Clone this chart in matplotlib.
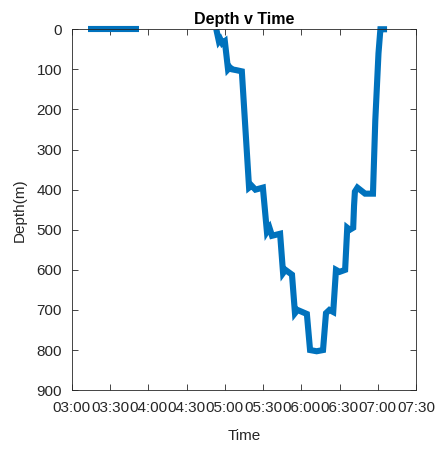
import numpy as np
import pandas as pd
import matplotlib
matplotlib.use('Agg')
import matplotlib.pyplot as plt
import matplotlib.dates as mdates

plt.rcParams['font.family'] = ['Liberation Sans', 'DejaVu Sans']

# surface segment
t_surface = ['03:12:30', '03:53:00']
d_surface = [0, 0]

# dive profile
t_dive = ['04:53:50', '04:55:20', '04:56:30', '04:58:00', '05:00:00', '05:02:30',
          '05:04:00', '05:05:40', '05:09:00', '05:13:20', '05:19:00', '05:21:00',
          '05:24:00', '05:29:50', '05:33:00', '05:35:00', '05:37:00', '05:43:20',
          '05:45:40', '05:47:30', '05:52:40', '05:55:00', '05:57:00', '06:04:20',
          '06:06:50', '06:12:00', '06:17:00', '06:19:20', '06:22:00', '06:25:00',
          '06:27:10', '06:30:00', '06:34:20', '06:36:00', '06:38:00', '06:40:40',
          '06:41:20', '06:42:00', '06:44:00', '06:50:00', '06:56:10', '06:58:00',
          '07:00:30', '07:02:00', '07:04:50']
d_dive = [8, 30, 25, 35, 30, 100,
          95, 100, 102, 105, 395, 390,
          400, 395, 505, 495, 515, 510,
          608, 600, 612, 708, 700, 710,
          800, 803, 800, 708, 700, 705,
          600, 605, 600, 495, 500, 495,
          440, 405, 395, 410, 410, 227,
          60, 0, 0]

day = '2020-01-01 '
ts = pd.to_datetime([day + s for s in t_surface])
td = pd.to_datetime([day + s for s in t_dive])

fig, ax = plt.subplots(figsize=(4.38, 4.5), dpi=100)
fig.subplots_adjust(left=0.164, right=0.95, top=0.935, bottom=0.133)

col = '#0072BD'
ax.plot(ts, d_surface, color=col, lw=4.4, clip_on=False, solid_capstyle='butt')
ax.plot(td, d_dive, color=col, lw=4.4, clip_on=False, solid_joinstyle='miter')

ax.set_xlim(pd.Timestamp(day + '03:00'), pd.Timestamp(day + '07:30'))
ax.xaxis.set_major_locator(mdates.MinuteLocator(byminute=[0, 30]))
ax.xaxis.set_major_formatter(mdates.DateFormatter('%H:%M'))
ax.set_ylim(900, 0)
ax.set_yticks(np.arange(0, 901, 100))

ax.tick_params(direction='in', top=True, right=True, length=4, width=0.6,
               color='#262626', labelcolor='#262626', labelsize=11)
ax.tick_params(axis='x', pad=8)
ax.tick_params(axis='y', pad=7)
for s in ax.spines.values():
    s.set_linewidth(0.6)
    s.set_color('#262626')

ax.set_title('Depth v Time', fontsize=11.5, fontweight='bold', color='#000000', pad=4)
ax.set_xlabel('Time', fontsize=11, color='#262626', labelpad=10)
ax.set_ylabel('Depth(m)', fontsize=11, color='#262626', labelpad=7)

fig.savefig('out.png', dpi=100)
